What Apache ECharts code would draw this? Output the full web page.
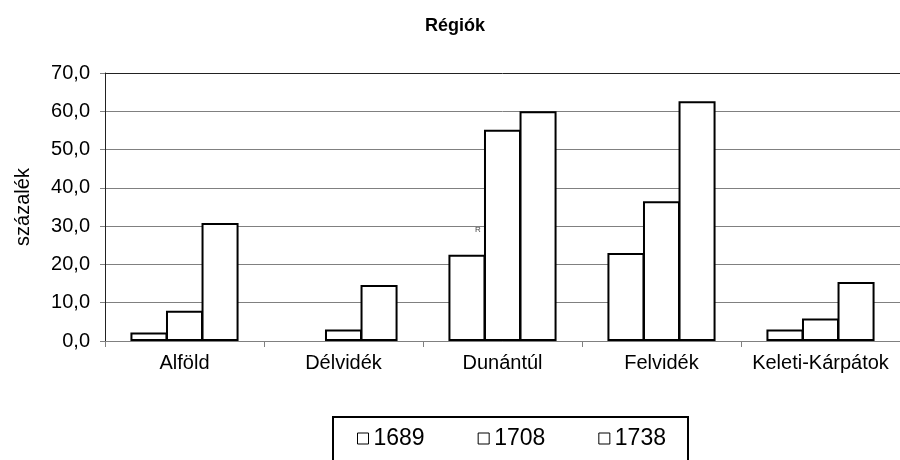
<!DOCTYPE html>
<html style="height:100%">
<head>
    <meta charset="utf-8">
</head>
<body style="height:100%; margin: 0; background: #fff">
    <div id="container" style="width: 900px; height: 460px"></div>
    <script src="https://cdn.jsdelivr.net/npm/echarts@6/dist/echarts.min.js"></script>
    <script type="text/javascript">
    var regions = ['Alföld', 'Délvidék', 'Dunántúl', 'Felvidék', 'Keleti-Kárpátok'];
    var years = ['1689', '1708', '1738'];
    var v1689 = [2.2, null, 22.5, 23.0, 3.0];   // no bar for Délvidék in 1689
    var v1708 = [7.9, 3.0, 55.2, 36.5, 5.9];
    var v1738 = [30.8, 14.6, 60.0, 62.6, 15.4];
    var yTicks = [0, 70, 10]; // min, max, step

    var font = '"Liberation Sans", Arial, sans-serif';
    var dom = document.getElementById('container');
    var myChart = echarts.init(dom);

    function barSeries(name, values) {
        return {
            name: name,
            type: 'bar',
            data: values,
            barGap: '-4%',
            barCategoryGap: '32%',
            itemStyle: {
                color: '#ffffff',
                borderColor: '#000000',
                borderWidth: 2
            },
            emphasis: { disabled: true }
        };
    }

    // top gridline (70,0) is darker, like a frame
    var splitColors = ['#808080', '#808080', '#808080', '#808080',
                       '#808080', '#808080', '#808080', '#222222'];

    var option = {
        animation: false,
        title: {
            text: 'Régiók',
            left: 420,
            top: 12,
            textStyle: { fontFamily: font, fontSize: 18, fontWeight: 'bold', color: '#000' }
        },
        legend: {
            data: years,
            left: 333,
            top: 417,
            padding: [10, 22, 40, 24],
            itemGap: 53,
            itemWidth: 11,
            itemHeight: 11,
            icon: 'rect',
            borderColor: '#000',
            borderWidth: 2,
            itemStyle: { borderWidth: 1, borderColor: '#000', color: '#fff' },
            textStyle: { fontFamily: font, fontSize: 23, color: '#000' }
        },
        grid: {
            left: 105,
            right: 0,
            top: 73,
            bottom: 119
        },
        xAxis: {
            type: 'category',
            data: regions,
            axisLine: { lineStyle: { color: '#808080', width: 1 } },
            axisTick: { show: true, length: 6, lineStyle: { color: '#808080' } },
            axisLabel: { interval: 0, fontFamily: font, fontSize: 20, color: '#000', margin: 12 }
        },
        yAxis: {
            type: 'value',
            min: yTicks[0],
            max: yTicks[1],
            interval: yTicks[2],
            name: 'százalék',
            nameLocation: 'middle',
            nameGap: 72,
            nameTextStyle: { fontFamily: font, fontSize: 20, color: '#000' },
            axisLine: { show: true, lineStyle: { color: '#222', width: 1 } },
            axisTick: { show: true, length: 5, lineStyle: { color: '#808080' } },
            axisLabel: {
                fontFamily: font, fontSize: 20, color: '#000', margin: 15,
                formatter: function (v) { return v.toFixed(1).replace('.', ','); }
            },
            splitLine: { lineStyle: { color: splitColors, width: 1 } }
        },
        graphic: [{
            type: 'text',
            left: 475,
            top: 226,
            style: { text: 'R', fontFamily: font, fontSize: 8, fill: '#444' }
        }],
        series: [
            barSeries(years[0], v1689),
            barSeries(years[1], v1708),
            barSeries(years[2], v1738)
        ]
    };

    myChart.setOption(option);
    </script>
</body>
</html>
